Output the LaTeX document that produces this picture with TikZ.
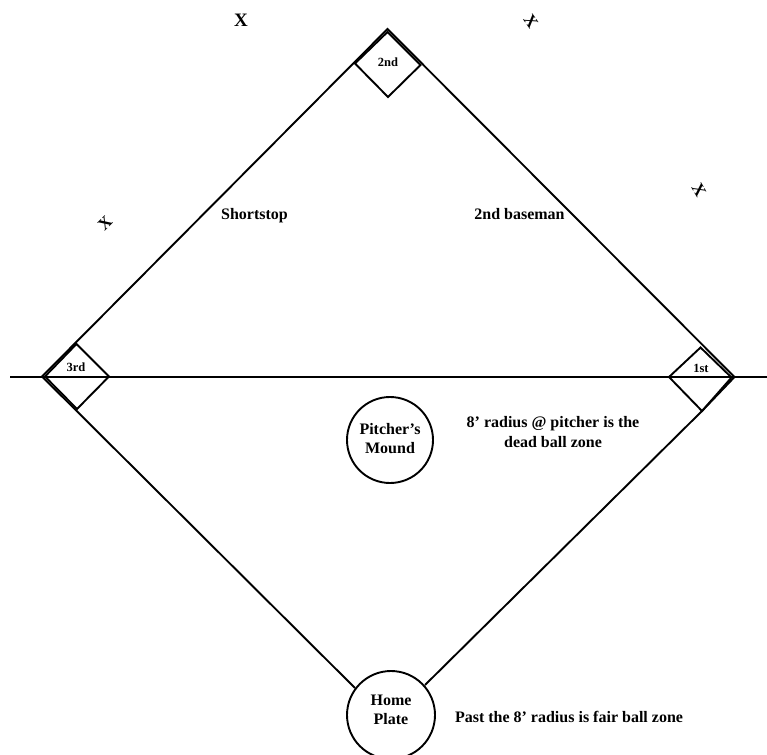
\documentclass[tikz,border=0pt]{standalone}
\usepackage{fontspec}
\setmainfont{Liberation Serif}
\begin{document}
\begin{tikzpicture}[x=1pt,y=-1pt,
  fieldline/.style={draw=black,line width=1.9pt,line join=miter},
  axisline/.style={draw=black,line width=2.3pt},
  lab/.style={font=\bfseries\fontsize{16}{20}\selectfont,align=center,inner sep=0pt},
  baselab/.style={font=\bfseries\fontsize{12.5}{14}\selectfont,inner sep=0pt},
  fieldcircle/.style={circle,draw=black,line width=1.9pt,fill=white,minimum size=86pt,inner sep=0pt},
  circlelab/.style={font=\bfseries\fontsize{16}{19}\selectfont,align=center,inner sep=0pt},
  xmark/.style={font=\bfseries\fontsize{17}{19}\selectfont,inner sep=0pt}]
\useasboundingbox[clip] (0,0) rectangle (767,754);
\coordinate (st) at (387.5,29); \coordinate (sl) at (355,63.5); \coordinate (sr) at (420.5,65); \coordinate (sb) at (388,97); \coordinate (sa) at (387.5,32);
\coordinate (tl) at (42,376.5); \coordinate (tt) at (76.5,344); \coordinate (tr) at (109,376.5); \coordinate (tb) at (77,409); \coordinate (ta) at (45,376.5);
\coordinate (fr) at (734.5,377); \coordinate (ft) at (700.5,347.5); \coordinate (fl) at (669,377); \coordinate (fb) at (702,411); \coordinate (fa) at (731.5,377.5);
\coordinate (hl) at (355,688); \coordinate (hr) at (425,685);
\coordinate (axisL) at (10,376.7); \coordinate (axisR) at (767,376.7);
\draw[fieldline] (hl) -- (tl) -- (st) -- (fr) -- (fb) -- (hr);
\draw[axisline] (axisL) -- (axisR);
\draw[fieldline] (sa) -- (sl) -- (sb) -- (sr) -- cycle;
\draw[fieldline] (ta) -- (tt) -- (tr) -- (tb) -- cycle;
\draw[fieldline] (fa) -- (ft) -- (fl) -- (fb) -- cycle;
\node[fieldcircle] (mound) at (390,440) {};
\node[circlelab] (moundlab) at (mound.center) [yshift=1pt] {Pitcher’s\\Mound};
\node[fieldcircle,minimum size=88pt] (home) at (391,715) {};
\node[circlelab] (homelab) at (391,710) {Home\\Plate};
\node[baselab] (b2) at (388,62) {2nd};
\node[baselab] (b3) at (76,367.5) {3rd};
\node[baselab] (b1) at (701,368) {1st};
\node[lab] (ss) at (254.5,216) {Shortstop};
\node[lab] (sbm) at (519.5,214) {2nd baseman};
\node[lab] (dead) at (553,432) {8’ radius @ pitcher is the\\dead ball zone};
\node[lab] (fair) at (569,717) {Past the 8’ radius is fair ball zone};
\node[xmark,font=\bfseries\fontsize{19}{21}\selectfont] (x1) at (241,20) {X};
\node[xmark,rotate=-55] (x2) at (531,21) {X};
\node[xmark,rotate=45] (x3) at (105,223) {X};
\node[xmark,rotate=-60] (x4) at (699,190) {X};
\end{tikzpicture}
\end{document}
